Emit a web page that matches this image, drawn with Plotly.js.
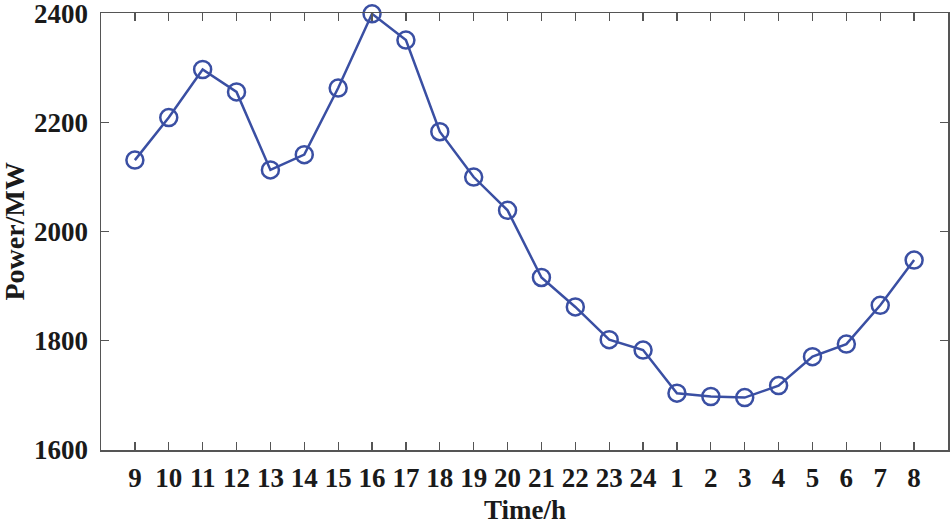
<!DOCTYPE html>
<html>
<head>
<meta charset="utf-8">
<script src="https://cdn.plot.ly/plotly-3.0.1.min.js"></script>
<style>html,body{margin:0;padding:0;background:#fff;}#chart{width:950px;height:527px;}</style>
</head>
<body>
<div id="chart"></div>
<script>
const hours = ['9','10','11','12','13','14','15','16','17','18','19','20','21','22','23','24','1','2','3','4','5','6','7','8'];
const power = [2131, 2209, 2297, 2256, 2113, 2141, 2263, 2399, 2351, 2183, 2100, 2039, 1916, 1862, 1802, 1783, 1704, 1698, 1696, 1718, 1771, 1794, 1865, 1948];
const yTicks = [1600, 1800, 2000, 2200, 2400];
const xTitle = 'Time/h';
const yTitle = 'Power/MW';

const idx = hours.map((h, i) => i);
const fam = 'Liberation Serif, Times New Roman, serif';

Plotly.newPlot('chart', [{
  x: idx,
  y: power,
  type: 'scatter',
  mode: 'lines+markers',
  line: {color: '#3a4fa3', width: 2.5},
  marker: {symbol: 'circle-open', size: 17, color: '#3a4fa3', line: {width: 2.5, color: '#3a4fa3'}},
  cliponaxis: false,
  hoverinfo: 'skip'
}], {
  width: 950, height: 527,
  margin: {l: 101, r: 2, t: 13, b: 77},
  paper_bgcolor: '#fff', plot_bgcolor: '#fff',
  showlegend: false,
  font: {family: fam, size: 27, color: '#1a1a1a'},
  xaxis: {
    range: [-1, 24],
    tickmode: 'array', tickvals: idx, ticktext: hours,
    ticks: 'inside', ticklen: 8, tickwidth: 1.3, tickcolor: '#555',
    showline: true, linecolor: '#555', linewidth: 1.5, mirror: 'ticks',
    showgrid: false, zeroline: false,
    ticklabelstandoff: 3,
    ticklabeloverflow: 'allow',
    tickfont: {family: fam, size: 27, color: '#1a1a1a', weight: 'bold'}
  },
  yaxis: {
    range: [1600, 2400.5],
    tickmode: 'array', tickvals: yTicks, ticktext: yTicks.map(String),
    ticks: 'inside', ticklen: 8, tickwidth: 1.3, tickcolor: '#555',
    showline: true, linecolor: '#555', linewidth: 1.5, mirror: 'ticks',
    showgrid: false, zeroline: false,
    ticklabeloverflow: 'allow',
    tickfont: {family: fam, size: 27, color: '#1a1a1a', weight: 'bold'},
    ticklabelstandoff: 6
  },
  annotations: [{
    text: '<b>' + yTitle + '</b>',
    xref: 'paper', yref: 'paper', x: 0, y: 0.5,
    xanchor: 'center', yanchor: 'middle', xshift: -87, textangle: -90,
    showarrow: false,
    font: {family: fam, size: 28, color: '#1a1a1a'}
  }, {
    text: '<b>' + xTitle + '</b>',
    xref: 'paper', yref: 'paper', x: 0.5, y: 0,
    xanchor: 'center', yanchor: 'middle', yshift: -60,
    showarrow: false,
    font: {family: fam, size: 27, color: '#1a1a1a'}
  }]
}, {displayModeBar: false, staticPlot: true});
</script>
</body>
</html>
